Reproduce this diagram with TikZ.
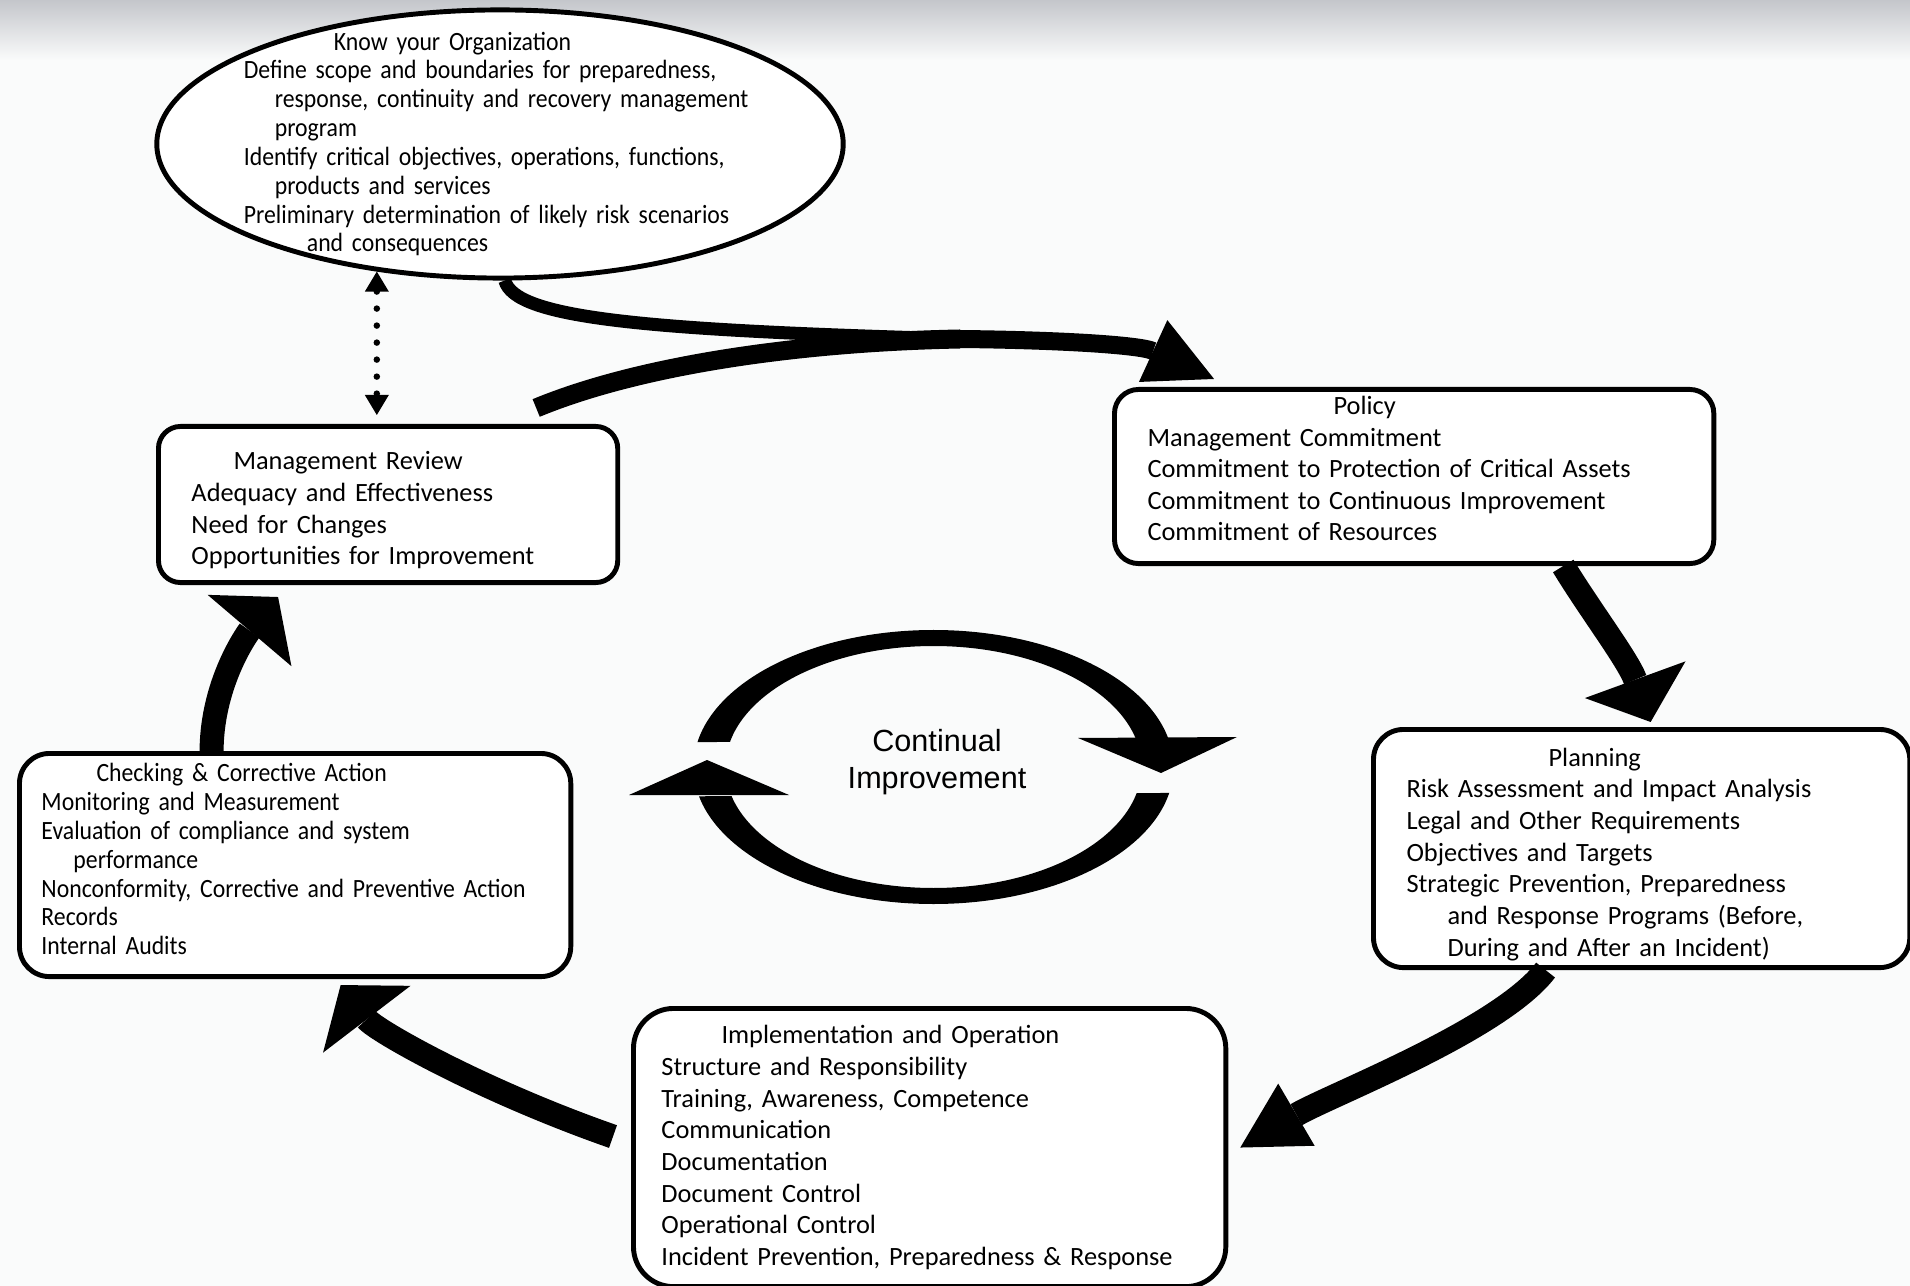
\documentclass[tikz,border=0pt]{standalone}
\definecolor{pagebg}{RGB}{250, 251, 251}
\definecolor{topgray}{RGB}{196, 198, 203}
\usepackage{fontspec}
\setmainfont{Carlito}[WordSpace=0.8]
\newfontfamily\narrowfont{Carlito}[FakeStretch=0.9, WordSpace=0.75]
\newfontfamily\cifont{Liberation Sans}
\usetikzlibrary{shapes.geometric, arrows.meta, positioning}

\tikzset{
  stepbox/.style={draw, line width=1.4pt, fill=white, align=left, anchor=north west,
    inner ysep=0pt, font=\fontsize{7.5}{9}\selectfont},
  narrowtext/.style={font=\narrowfont\fontsize{7.5}{8.2}\selectfont},
  flow/.style 2 args={line width=0.24cm, -{Triangle[length=#1, width=#2, line width=0pt]}},
  dotlink/.style={line width=0.065cm, dash pattern=on 0pt off 0.17cm, line cap=round,
    {Triangle[length=0.2cm, width=0.24cm, line width=0pt]}-{Triangle[length=0.2cm, width=0.24cm, line width=0pt]}}
}

\begin{document}
\begin{tikzpicture}[x=0.01cm, y=-0.01cm]
  \useasboundingbox (0,0) rectangle (1910,1286);
  \fill[pagebg] (0,0) rectangle (1910,1286);
  \shade[top color=topgray, bottom color=pagebg] (0,0) rectangle (1910,60);

  % organization ellipse
  \node[ellipse, draw, line width=1.4pt, fill=white, minimum width=6.86cm, minimum height=2.68cm, inner sep=0pt] (know) at (500,144) {};
  \node[narrowtext, text width=5.3cm, align=left, inner sep=0pt] (knowtext) at (509,144) {
    \hspace*{0.90cm}Know your Organization\\
    Define scope and boundaries for preparedness,\\
    \hspace*{0.31cm}response, continuity and recovery management\\
    \hspace*{0.31cm}program\\
    Identify critical objectives, operations, functions,\\
    \hspace*{0.31cm}products and services\\
    Preliminary determination of likely risk scenarios\\
    \hspace*{0.63cm}and consequences};

  % boxes
  \node[stepbox, rounded corners=0.24cm, text width=5.33cm, inner xsep=0.33cm, minimum height=1.74cm] (policy) at (1112,387) {
    \hspace*{1.86cm}Policy\\
    Management Commitment\\
    Commitment to Protection of Critical Assets\\
    Commitment to Continuous Improvement\\
    Commitment of Resources\rule[-0.16cm]{0pt}{0.16cm}};
  \node[stepbox, rounded corners=0.22cm, text width=3.93cm, inner xsep=0.33cm, minimum height=1.56cm] (mreview) at (156,424) {
    \hspace*{0.42cm}\rule{0pt}{0.3cm}Management Review\\
    Adequacy and Effectiveness\\
    Need for Changes\\
    Opportunities for Improvement};
  \node[stepbox, rounded corners=0.3cm, text width=4.70cm, inner xsep=0.33cm, minimum height=2.38cm] (planning) at (1371,727) {
    \hspace*{1.42cm}\rule{0pt}{0.3cm}Planning\\
    Risk Assessment and Impact Analysis\\
    Legal and Other Requirements\\
    Objectives and Targets\\
    Strategic Prevention, Preparedness\\
    \hspace*{0.41cm}and Response Programs (Before,\\
    \hspace*{0.41cm}During and After an Incident)};
  \node[stepbox, narrowtext, rounded corners=0.3cm, text width=5.07cm, inner xsep=0.22cm, minimum height=2.23cm] (checking) at (17,751) {
    \hspace*{0.55cm}Checking \& Corrective Action\\
    Monitoring and Measurement\\
    Evaluation of compliance and system\\
    \hspace*{0.32cm}performance\\
    Nonconformity, Corrective and Preventive Action\\
    Records\\
    Internal Audits\rule[-0.12cm]{0pt}{0.12cm}};
  \node[stepbox, rounded corners=0.4cm, text width=5.36cm, inner xsep=0.28cm, minimum height=2.78cm] (impl) at (631,1006) {
    \hspace*{0.60cm}Implementation and Operation\\
    Structure and Responsibility\\
    Training, Awareness, Competence\\
    Communication\\
    Documentation\\
    Document Control\\
    Operational Control\\
    Incident Prevention, Preparedness \& Response};

  % continual improvement ring
  \node[font=\cifont\fontsize{8.7}{10.5}\selectfont, align=center, inner sep=0pt] (cilabel) at (937,762) {Continual\\Improvement};
  \coordinate (ringc) at (933.5,767);
  \begin{scope}
    \clip (600,600) -- (1300,600) -- (1300,737) -- (600,743) -- cycle;
    \fill[even odd rule] (ringc) ellipse[x radius=240, y radius=137] (ringc) ellipse[x radius=208, y radius=121];
  \end{scope}
  \begin{scope}
    \clip (600,797) -- (1300,792) -- (1300,950) -- (600,950) -- cycle;
    \fill[even odd rule] (ringc) ellipse[x radius=240, y radius=137] (ringc) ellipse[x radius=208, y radius=121];
  \end{scope}
  \fill (1078,738) -- (1237,737) -- (1161,773) -- cycle;
  \fill (629,795) -- (789,795) -- (707,760) -- cycle;

  % cycle arrows
  \coordinate (merge) at (960,339);
  \draw[line width=0.13cm] (know.-88) .. controls (515,318) and (640,330) .. (merge);
  \draw[line width=0.19cm] ([xshift=1.48cm, yshift=0.16cm]mreview.north) .. controls (640,365) and (800,342) .. (merge);
  \draw[flow={0.67cm}{0.68cm}, line width=0.18cm] (merge) .. controls (1060,340) and (1140,345) .. ([xshift=1.02cm, yshift=0.08cm]policy.north west);
  \draw[flow={0.45cm}{1.07cm}] ([xshift=1.49cm]policy.south) .. controls (1590,610) and (1628,660) .. ([xshift=0.09cm, yshift=0.05cm]planning.north);
  \draw[flow={0.65cm}{0.72cm}] ([xshift=-0.96cm]planning.south) .. controls (1500,1030) and (1330,1095) .. ([xshift=0.12cm]impl.east);
  \draw[flow={0.43cm}{1.1cm}] ([xshift=-0.18cm, yshift=0.11cm]impl.west) .. controls (480,1090) and (375,1030) .. ([xshift=0.455cm, yshift=-0.06cm]checking.south);
  \draw[flow={0.44cm}{1.1cm}] ([xshift=-0.835cm]checking.north) .. controls (212,680) and (250,630) .. ([xshift=1.22cm, yshift=-0.12cm]mreview.south west);

  \draw[dotlink] (know.226) -- ([yshift=0.09cm]know.226 |- mreview.north);
\end{tikzpicture}
\end{document}
